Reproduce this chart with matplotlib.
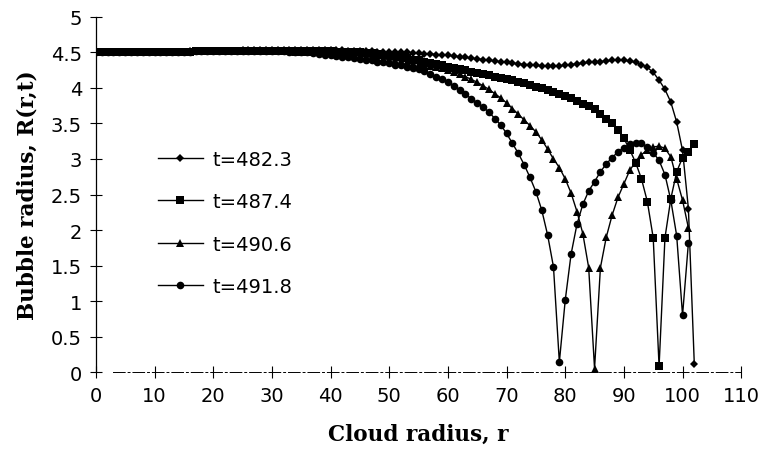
import numpy as np
import matplotlib
matplotlib.use("Agg")
import matplotlib.pyplot as plt

# bubble radius along the cloud at four instants (r = 0, 1, 2, ...)
R_482 = [4.50, 4.50, 4.50, 4.50, 4.50, 4.50, 4.50, 4.51, 4.51, 4.51,
         4.51, 4.51, 4.51, 4.51, 4.51, 4.51, 4.52, 4.52, 4.52, 4.52,
         4.52, 4.52, 4.52, 4.52, 4.52, 4.53, 4.53, 4.53, 4.53, 4.53,
         4.53, 4.53, 4.53, 4.53, 4.53, 4.53, 4.53, 4.53, 4.53, 4.53,
         4.53, 4.53, 4.53, 4.52, 4.52, 4.52, 4.52, 4.52, 4.51, 4.51,
         4.51, 4.51, 4.50, 4.50, 4.49, 4.49, 4.48, 4.48, 4.47, 4.47,
         4.46, 4.45, 4.44, 4.43, 4.42, 4.41, 4.40, 4.39, 4.38, 4.37,
         4.36, 4.35, 4.34, 4.33, 4.33, 4.32, 4.31, 4.31, 4.31, 4.31,
         4.32, 4.33, 4.34, 4.35, 4.36, 4.36, 4.37, 4.38, 4.39, 4.39,
         4.39, 4.38, 4.36, 4.33, 4.29, 4.22, 4.11, 3.98, 3.80, 3.52,
         3.12, 2.30, 0.12]

R_487 = [4.50, 4.50, 4.50, 4.50, 4.50, 4.50, 4.50, 4.50, 4.51, 4.51,
         4.51, 4.51, 4.51, 4.51, 4.51, 4.51, 4.51, 4.52, 4.52, 4.52,
         4.52, 4.52, 4.52, 4.52, 4.52, 4.52, 4.52, 4.52, 4.52, 4.52,
         4.52, 4.52, 4.52, 4.52, 4.52, 4.52, 4.52, 4.52, 4.52, 4.52,
         4.52, 4.51, 4.51, 4.51, 4.50, 4.50, 4.49, 4.49, 4.48, 4.47,
         4.46, 4.45, 4.43, 4.42, 4.40, 4.39, 4.37, 4.35, 4.34, 4.32,
         4.30, 4.28, 4.26, 4.25, 4.23, 4.21, 4.19, 4.18, 4.16, 4.14,
         4.13, 4.11, 4.09, 4.07, 4.04, 4.02, 4.00, 3.97, 3.94, 3.92,
         3.89, 3.86, 3.82, 3.78, 3.74, 3.70, 3.64, 3.57, 3.50, 3.41,
         3.29, 3.13, 2.95, 2.72, 2.40, 1.89, 0.08, 1.89, 2.44, 2.82,
         3.02, 3.10, 3.21]

R_490 = [4.50, 4.50, 4.50, 4.50, 4.50, 4.50, 4.50, 4.50, 4.51, 4.51,
         4.51, 4.51, 4.51, 4.51, 4.51, 4.51, 4.51, 4.52, 4.52, 4.52,
         4.52, 4.52, 4.52, 4.52, 4.52, 4.52, 4.52, 4.52, 4.52, 4.52,
         4.52, 4.52, 4.52, 4.52, 4.51, 4.51, 4.51, 4.51, 4.50, 4.50,
         4.49, 4.49, 4.48, 4.47, 4.46, 4.45, 4.44, 4.43, 4.42, 4.41,
         4.40, 4.39, 4.38, 4.37, 4.35, 4.34, 4.33, 4.31, 4.30, 4.28,
         4.25, 4.22, 4.19, 4.16, 4.12, 4.08, 4.03, 3.98, 3.92, 3.86,
         3.79, 3.71, 3.63, 3.55, 3.47, 3.38, 3.27, 3.14, 3.00, 2.88,
         2.72, 2.52, 2.26, 1.95, 1.47, 0.05, 1.47, 1.90, 2.21, 2.46,
         2.65, 2.84, 2.96, 3.06, 3.13, 3.17, 3.18, 3.15, 3.03, 2.72,
         2.42, 2.03]

R_491 = [4.50, 4.50, 4.50, 4.50, 4.50, 4.50, 4.50, 4.50, 4.51, 4.51,
         4.51, 4.51, 4.51, 4.51, 4.51, 4.51, 4.51, 4.52, 4.52, 4.52,
         4.52, 4.52, 4.52, 4.52, 4.52, 4.52, 4.52, 4.52, 4.52, 4.52,
         4.52, 4.52, 4.52, 4.51, 4.51, 4.50, 4.50, 4.49, 4.48, 4.47,
         4.46, 4.45, 4.44, 4.43, 4.42, 4.41, 4.40, 4.39, 4.37, 4.36,
         4.35, 4.33, 4.32, 4.30, 4.28, 4.26, 4.24, 4.20, 4.16, 4.12,
         4.08, 4.03, 3.97, 3.91, 3.85, 3.79, 3.73, 3.66, 3.57, 3.48,
         3.36, 3.22, 3.08, 2.92, 2.74, 2.54, 2.28, 1.93, 1.48, 0.14,
         1.01, 1.66, 2.08, 2.36, 2.55, 2.68, 2.82, 2.93, 3.02, 3.10,
         3.16, 3.21, 3.23, 3.22, 3.17, 3.09, 2.98, 2.78, 2.42, 1.92,
         0.80, 1.82]

labels = ["t=482.3", "t=487.4", "t=490.6", "t=491.8"]
series = [R_482, R_487, R_490, R_491]
markers = ["D", "s", "^", "o"]
msizes = [4.5, 5.5, 5.5, 5.5]

xticks = list(range(0, 111, 10))
yticks = [0, 0.5, 1, 1.5, 2, 2.5, 3, 3.5, 4, 4.5, 5]

fig = plt.figure(figsize=(7.61, 4.60), dpi=100)
ax = fig.add_axes([0.126, 0.189, 0.848, 0.772])

for R, lab, m, ms in zip(series, labels, markers, msizes):
    r = np.arange(len(R))
    ax.plot(r, R, color="black", lw=1.0, marker=m, ms=ms,
            markeredgewidth=0, label=lab)

ax.set_xlim(0, 110)
ax.set_ylim(0, 5)
ax.set_xticks(xticks)
ax.set_yticks(yticks)
ax.set_yticklabels(["%g" % v for v in yticks])
ax.tick_params(direction="inout", length=8, width=0.8, labelsize=14, pad=6)

ax.spines["top"].set_visible(False)
ax.spines["right"].set_visible(False)
ax.spines["left"].set_linewidth(0.9)
ax.spines["bottom"].set_linewidth(0.7)
ax.spines["bottom"].set_linestyle((0, (12, 3, 2, 3)))
ax.spines["bottom"].set_bounds(3, 110)

ax.set_xlabel("Cloud radius, r", family="DejaVu Serif", weight="bold",
              fontsize=15.5, labelpad=13)
ax.set_ylabel("Bubble radius, R(r,t)", family="DejaVu Serif", weight="bold",
              fontsize=15.5, labelpad=9)

ax.legend(loc="center left", bbox_to_anchor=(0.096, 0.42), frameon=False,
          fontsize=14, numpoints=1, handlelength=2.3, handletextpad=0.5,
          labelspacing=1.2, borderpad=0, borderaxespad=0)

fig.savefig("out.png", dpi=100)
